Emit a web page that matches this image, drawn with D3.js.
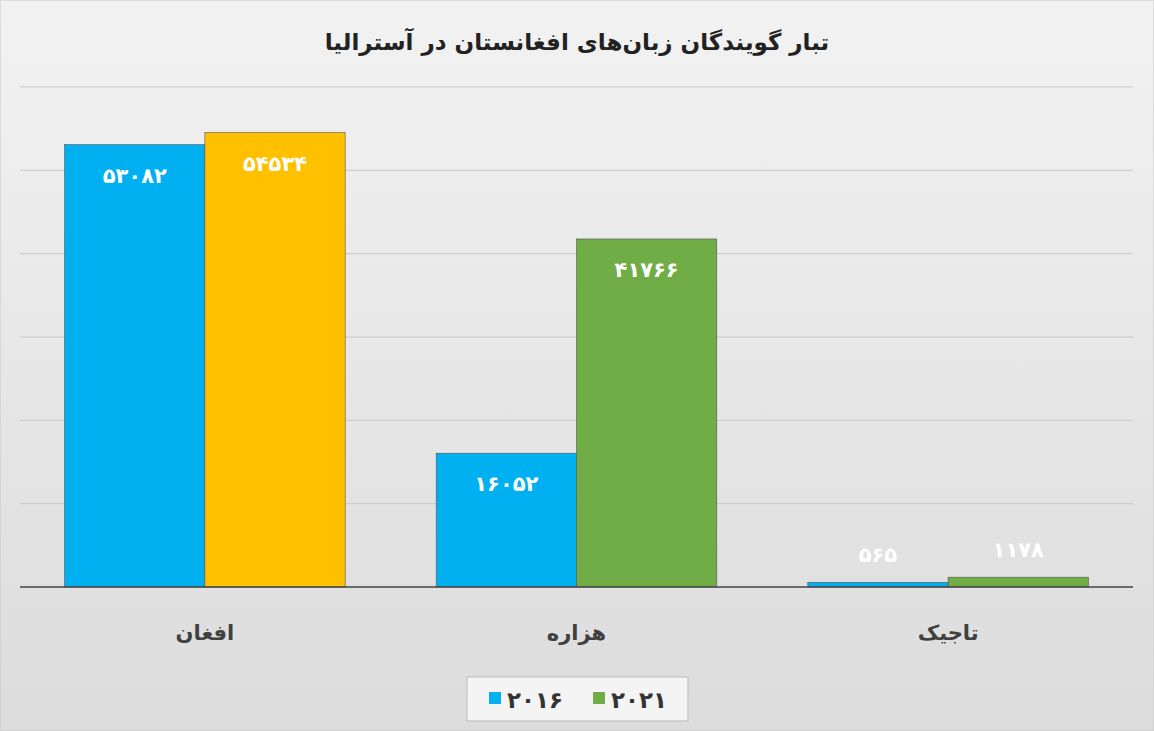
<!DOCTYPE html>
<html><head><meta charset="utf-8">
<script src="https://cdn.jsdelivr.net/npm/d3@7"></script>
<style>body{margin:0;background:#fff}svg{display:block;font-family:"DejaVu Sans",sans-serif}</style>
</head><body><svg width="1154" height="731"></svg>
<script>
const categories = ["افغان", "هزاره", "تاجیک"];
const years = ["2016", "2021"];
const values2016 = [53082, 16052, 565];
const values2021 = [54534, 41766, 1178];
const yTicks = [0, 10000, 20000, 30000, 40000, 50000, 60000];

const fa = function (s) {
  return String(s).replace(/[0-9]/g, function (c) { return "۰۱۲۳۴۵۶۷۸۹"[+c]; });
};

const svg = d3.select("svg");
const defs = svg.append("defs");
const grad = defs.append("linearGradient").attr("id", "bg").attr("x1", 0).attr("y1", 0).attr("x2", 0).attr("y2", 1);
grad.append("stop").attr("offset", "0%").attr("stop-color", "#f2f2f2");
grad.append("stop").attr("offset", "100%").attr("stop-color", "#dcdcdc");
svg.append("rect").attr("width", 1154).attr("height", 731).attr("fill", "url(#bg)")
  .attr("stroke", "#c8c8c8");

const margin = { left: 20, right: 21, top: 87, bottom: 144 };
const width = 1154 - margin.left - margin.right, height = 731 - margin.top - margin.bottom;
const g = svg.append("g").attr("transform", "translate(" + margin.left + "," + margin.top + ")");

const y = d3.scaleLinear().domain([0, 60000]).range([height, 0]);
const x0 = d3.scaleBand().domain(categories).range([0, width]).paddingInner(0.245).paddingOuter(0.12);
const x1 = d3.scaleBand().domain(years).range([0, x0.bandwidth()]);

g.selectAll(".grid").data(yTicks.slice(1)).enter().append("line")
  .attr("x1", 0).attr("x2", width).attr("y1", y).attr("y2", y)
  .attr("stroke", "#c9c9c9").attr("stroke-width", 1);

const rows = categories.map(function (c, i) {
  return [
    { cat: c, year: "2016", v: values2016[i], color: "#00b0f0" },
    { cat: c, year: "2021", v: values2021[i], color: i === 0 ? "#ffc000" : "#70ad47" }
  ];
}).flat();

g.selectAll(".bar").data(rows).enter().append("rect")
  .attr("x", function (d) { return x0(d.cat) + x1(d.year); })
  .attr("y", function (d) { return y(d.v); })
  .attr("width", x1.bandwidth())
  .attr("height", function (d) { return height - y(d.v); })
  .attr("fill", function (d) { return d.color; })
  .attr("stroke", "#555").attr("stroke-width", 0.6);

g.selectAll(".lbl").data(rows).enter().append("text")
  .attr("x", function (d) { return x0(d.cat) + x1(d.year) + x1.bandwidth() / 2; })
  .attr("y", function (d) { return d.v > 5000 ? y(d.v) + 38 : y(d.v) - 20; })
  .attr("text-anchor", "middle").attr("fill", "#fff")
  .attr("font-size", 21).attr("font-weight", "bold")
  .text(function (d) { return fa(d.v); });

g.append("line").attr("x1", 0).attr("x2", width).attr("y1", height).attr("y2", height)
  .attr("stroke", "#444").attr("stroke-width", 1.5);

const xAxis = g.append("g").attr("transform", "translate(0," + height + ")")
  .call(d3.axisBottom(x0).tickSize(0).tickPadding(38));
xAxis.select(".domain").remove();
xAxis.selectAll("text").attr("font-size", 21).attr("font-weight", "bold").attr("fill", "#404040")
  .style("font-family", "DejaVu Sans");

svg.append("text").attr("x", 577).attr("y", 50).attr("text-anchor", "middle")
  .attr("font-size", 23).attr("font-weight", "bold").attr("fill", "#222")
  .text("تبار گویندگان زبان‌های افغانستان در آسترالیا");

const legend = svg.append("g").attr("transform", "translate(467,677)");
legend.append("rect").attr("width", 221).attr("height", 44).attr("fill", "#f4f4f4").attr("stroke", "#bbb");
const lcol = ["#00b0f0", "#70ad47"];
years.forEach(function (yr, i) {
  const it = legend.append("g").attr("transform", "translate(" + (22 + i * 104) + ",0)");
  it.append("rect").attr("x", 0).attr("y", 15).attr("width", 12).attr("height", 12).attr("fill", lcol[i]);
  it.append("text").attr("x", 18).attr("y", 31).attr("font-size", 23).attr("font-weight", "bold")
    .attr("fill", "#333").text(fa(yr));
});
</script></body></html>
